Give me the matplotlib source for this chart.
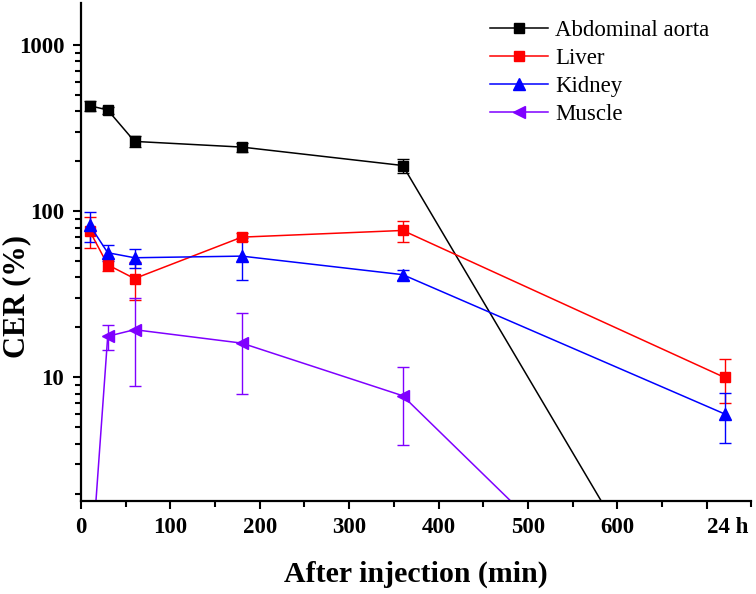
import matplotlib
matplotlib.use("Agg")
import matplotlib.pyplot as plt
from matplotlib.ticker import FixedLocator, NullFormatter, LogLocator
from matplotlib.lines import Line2D

time_min = [10, 30, 60, 180, 360, 720]

aorta = [433, 408, 264, 244, 189, 0.1]
aorta_err = [30, 20, 20, 15, 18, 0]

liver = [76, 47.7, 39.4, 70, 76.8, 10]
liver_err = [16, 4, 10, 4, 11, 3]

kidney = [82.4, 56.4, 52.6, 53.8, 41.6, 6.03]
kidney_err = [17, 6, 7, 15, 3, 2]

muscle = [0.55, 17.7, 19.4, 16.1, 7.76, 0.1]
muscle_err = [0, 3, 10.5, 8.2, 3.85, 0]

series_names = ["Abdominal aorta", "Liver", "Kidney", "Muscle"]
x_tick_values = [0, 100, 200, 300, 400, 500, 600, 700]
x_tick_labels = ["0", "100", "200", "300", "400", "500", "600", "24 h"]
y_tick_values = [10, 100, 1000]
y_tick_labels = ["10", "100", "1000"]

serif = ["Liberation Serif", "DejaVu Serif"]
plt.rcParams["font.family"] = serif

fig = plt.figure(figsize=(7.56, 5.94), dpi=100)
ax = fig.add_axes([0.107, 0.157, 0.887, 0.838])

styles = [
    dict(color="black", marker="s", ms=7),
    dict(color="#ff0000", marker="s", ms=7),
    dict(color="#0000ff", marker="^", ms=9),
    dict(color="#7f00ff", marker="<", ms=9),
]
data = [(aorta, aorta_err), (liver, liver_err), (kidney, kidney_err), (muscle, muscle_err)]
handles = []
for name, (vals, errs), st in zip(series_names, data, styles):
    ax.errorbar(time_min, vals, yerr=errs, color=st["color"], marker=st["marker"],
                ms=st["ms"], lw=1.1, elinewidth=1.0, capsize=4, capthick=1.0,
                clip_on=True)
    handles.append(Line2D([], [], color=st["color"], marker=st["marker"],
                          ms=st["ms"], lw=1.1, label=name))

ax.set_yscale("log")
ax.set_xlim(0, 750)
ax.set_ylim(1.81, 1800)

ax.xaxis.set_major_locator(FixedLocator(x_tick_values))
ax.set_xticklabels(x_tick_labels)
ax.xaxis.set_minor_locator(FixedLocator([50, 150, 250, 350, 450, 550, 650, 750]))
ax.yaxis.set_major_locator(FixedLocator(y_tick_values))
ax.set_yticklabels(y_tick_labels)
ax.yaxis.set_minor_locator(LogLocator(base=10, subs=range(2, 10)))
ax.yaxis.set_minor_formatter(NullFormatter())

for lab in ax.get_xticklabels() + ax.get_yticklabels():
    lab.set_fontweight("bold")
    lab.set_fontsize(16.5)
ax.get_xticklabels()[-1].set_horizontalalignment("left")

ax.tick_params(axis="both", which="major", direction="out", length=6, width=1.5, pad=6)
ax.tick_params(axis="both", which="minor", direction="out", length=4, width=1.5)

for s in ["top", "right"]:
    ax.spines[s].set_visible(False)
for s in ["left", "bottom"]:
    ax.spines[s].set_linewidth(1.6)

ax.set_xlabel("After injection (min)", fontsize=21.5, fontweight="bold", labelpad=16)
ax.set_ylabel("CER (%)", fontsize=22, fontweight="bold")
ax.yaxis.set_label_coords(-0.074, 0.41)

leg = ax.legend(handles=handles, loc="upper left", bbox_to_anchor=(0.61, 0.966),
                frameon=False, fontsize=16.5, handlelength=2.55, handletextpad=0.3,
                labelspacing=0.3, borderpad=0, borderaxespad=0)

fig.savefig("out.png", dpi=100)
